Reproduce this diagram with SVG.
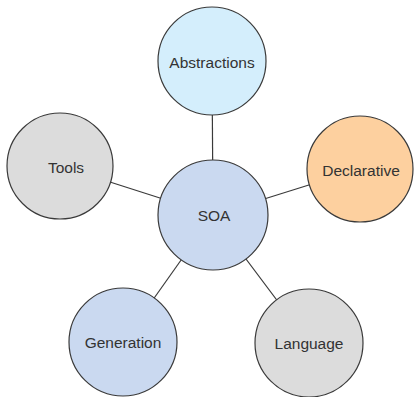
<svg xmlns="http://www.w3.org/2000/svg" width="414" height="397" viewBox="0 0 414 397">
<style>
.n{stroke:#3a3a3a;stroke-width:1.2}
.t{font-family:"Liberation Sans",Arial,sans-serif;font-size:15.5px;fill:#333;text-anchor:middle;dominant-baseline:central}
.c{stroke:#3a3a3a;stroke-width:1.2;fill:none}
</style>
<rect width="414" height="397" fill="#fff"/>
<g id="connectors">
<line class="c" x1="213" y1="215" x2="212" y2="61"/>
<line class="c" x1="213" y1="215" x2="60" y2="166"/>
<line class="c" x1="213" y1="215" x2="360" y2="169"/>
<line class="c" x1="213" y1="215" x2="123" y2="342"/>
<line class="c" x1="213" y1="215" x2="309" y2="343"/>
</g>
<g id="abstractions"><circle class="n" cx="212" cy="61" r="54" fill="#d4eefc"/><text class="t" x="212" y="62">Abstractions</text></g>
<g id="tools"><circle class="n" cx="60" cy="166" r="53" fill="#dcdcdc"/><text class="t" x="66" y="167">Tools</text></g>
<g id="declarative"><circle class="n" cx="360" cy="169" r="53" fill="#fdd09f"/><text class="t" x="361" y="170">Declarative</text></g>
<g id="soa"><circle class="n" cx="213" cy="215" r="55" fill="#cad9f0"/><text class="t" x="214" y="215">SOA</text></g>
<g id="generation"><circle class="n" cx="123" cy="342" r="54" fill="#cad9f0"/><text class="t" x="123" y="342">Generation</text></g>
<g id="language"><circle class="n" cx="309" cy="343" r="54" fill="#dcdcdc"/><text class="t" x="309" y="343">Language</text></g>
</svg>
